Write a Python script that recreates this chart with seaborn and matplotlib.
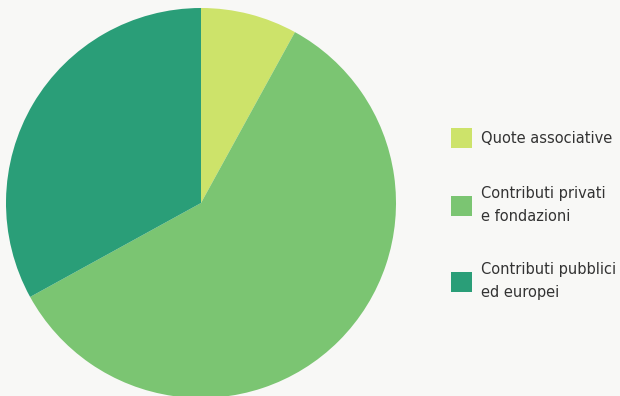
import matplotlib
matplotlib.use("Agg")
import matplotlib.pyplot as plt
import seaborn as sns
from matplotlib.patches import Patch

categories = ["Quote associative", "Contributi privati\ne fondazioni", "Contributi pubblici\ned europei"]
values = [8, 59, 33]
colors = ["#cde36a", "#7bc572", "#2a9e78"]

sns.set_theme(style="white")
plt.rcParams['font.family'] = ['DejaVu Sans']
bg = "#f8f8f6"

fig = plt.figure(figsize=(6.2, 3.96), dpi=100, facecolor=bg)
ax = fig.add_axes([6/620, (396-398)/396, 390/620, 390/396])
ax.set_facecolor(bg)
ax.pie(values, colors=colors, startangle=90, counterclock=False, radius=1,
       wedgeprops=dict(linewidth=0))
ax.set_xlim(-1, 1)
ax.set_ylim(-1, 1)
ax.set_axis_off()

fs = 10.5
handles = [Patch(facecolor=c, edgecolor="none") for c in colors]
leg = fig.legend(handles, categories, loc="upper left",
                 bbox_to_anchor=(451/620, (396-128)/396), frameon=False,
                 borderpad=0, borderaxespad=0, handlelength=1.44, handleheight=1.73,
                 handletextpad=0.6, labelspacing=2.62,
                 prop={"size": fs}, labelcolor="#333333")
for t in leg.get_texts():
    t.set_linespacing(1.65)

fig.savefig("out.png", dpi=100, facecolor=bg)
